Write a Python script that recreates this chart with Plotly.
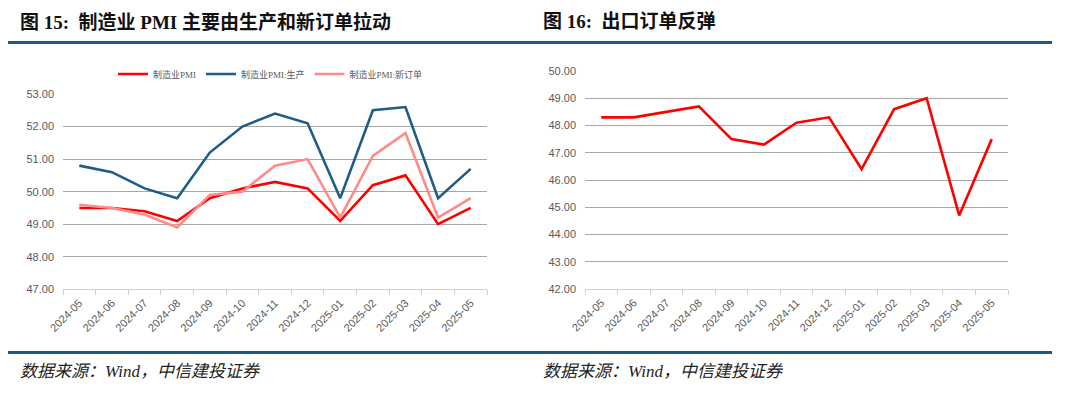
import plotly.graph_objects as go

months = ["2024-05", "2024-06", "2024-07", "2024-08", "2024-09", "2024-10", "2024-11",
          "2024-12", "2025-01", "2025-02", "2025-03", "2025-04", "2025-05"]
pmi = [49.5, 49.5, 49.4, 49.1, 49.8, 50.1, 50.3, 50.1, 49.1, 50.2, 50.5, 49.0, 49.5]
pmi_prod = [50.8, 50.6, 50.1, 49.8, 51.2, 52.0, 52.4, 52.1, 49.8, 52.5, 52.6, 49.8, 50.7]
pmi_neworder = [49.6, 49.5, 49.3, 48.9, 49.9, 50.0, 50.8, 51.0, 49.2, 51.1, 51.8, 49.2, 49.8]
export_order = [48.3, 48.3, 48.5, 48.7, 47.5, 47.3, 48.1, 48.3, 46.4, 48.6, 49.0, 44.7, 47.5]

# page body has an 8px default margin; size the figure to fit the window
OFF = 8
W, H = 1080 - 2 * OFF, 394 - 2 * OFF
def px(x): return (x - OFF) / W
def py(y): return 1 - (y - OFF) / H

fig = go.Figure()
fig.add_trace(go.Scatter(x=months, y=pmi, name="制造业PMI", mode="lines",
                         line=dict(color="#ff0000", width=2.6), xaxis="x", yaxis="y"))
fig.add_trace(go.Scatter(x=months, y=pmi_prod, name="制造业PMI:生产", mode="lines",
                         line=dict(color="#1f5c87", width=2.6), xaxis="x", yaxis="y"))
fig.add_trace(go.Scatter(x=months, y=pmi_neworder, name="制造业PMI:新订单", mode="lines",
                         line=dict(color="#ff8a8a", width=2.6), xaxis="x", yaxis="y"))
fig.add_trace(go.Scatter(x=months, y=export_order, name="新出口订单", mode="lines",
                         line=dict(color="#ff0000", width=2.6), xaxis="x2", yaxis="y2",
                         showlegend=False))

tickfont = dict(family="Liberation Sans, Arial, sans-serif", size=11, color="#595959")
xcommon = dict(type="category", tickangle=-45, tickfont=tickfont, showline=True,
               linecolor="#d0d0d0", linewidth=1, ticks="outside", tickson="boundaries",
               ticklen=5, tickcolor="#d0d0d0", showgrid=False, range=[-0.5, 12.5],
               fixedrange=True, automargin=False, ticklabelstandoff=2)
ycommon = dict(tickfont=tickfont, tickformat=".2f", showgrid=True, gridcolor="#a6a6a6",
               gridwidth=1, zeroline=False, showline=False, ticks="", dtick=1,
               automargin=False, ticklabelstandoff=8)

fig.update_layout(
    width=W, height=H,
    margin=dict(l=0, r=0, t=0, b=0, pad=0, autoexpand=False),
    paper_bgcolor="white", plot_bgcolor="white",
    xaxis=dict(domain=[px(63), px(487)], anchor="y", **xcommon),
    yaxis=dict(domain=[py(289.3), py(94)], anchor="x", range=[47, 53], **ycommon),
    xaxis2=dict(domain=[px(585), px(1008)], anchor="y2", **xcommon),
    yaxis2=dict(domain=[py(289), py(71)], anchor="x2", range=[42, 50], **ycommon),
    legend=dict(orientation="h", x=px(113), y=py(74), xanchor="left", yanchor="middle",
                font=dict(family="Liberation Serif, Noto Sans CJK SC", size=9, color="#595959"),
                bgcolor="rgba(0,0,0,0)", itemwidth=30, tracegroupgap=0),
    showlegend=True,
)

title_font = dict(family="Liberation Serif, Noto Sans CJK SC", size=19, color="#111111")
fig.add_annotation(text="<b>图 15:  制造业 PMI 主要由生产和新订单拉动</b>", x=px(18), y=py(22),
                   xref="paper", yref="paper", xanchor="left", yanchor="middle",
                   showarrow=False, font=title_font)
fig.add_annotation(text="<b>图 16:  出口订单反弹</b>", x=px(541), y=py(22),
                   xref="paper", yref="paper", xanchor="left", yanchor="middle",
                   showarrow=False, font=title_font)

src_font = dict(family="Liberation Serif, Noto Sans CJK SC", size=17, color="#222222")
fig.add_annotation(text="<i>数据来源：Wind，中信建投证券</i>", x=px(18), y=py(371),
                   xref="paper", yref="paper", xanchor="left", yanchor="middle",
                   showarrow=False, font=src_font)
fig.add_annotation(text="<i>数据来源：Wind，中信建投证券</i>", x=px(541), y=py(371),
                   xref="paper", yref="paper", xanchor="left", yanchor="middle",
                   showarrow=False, font=src_font)

for yline in (42.5, 352.5):
    fig.add_shape(type="line", xref="paper", yref="paper", x0=px(7), x1=px(1052),
                  y0=py(yline), y1=py(yline), line=dict(color="#1f5a85", width=3))

fig.write_html("out.html")
